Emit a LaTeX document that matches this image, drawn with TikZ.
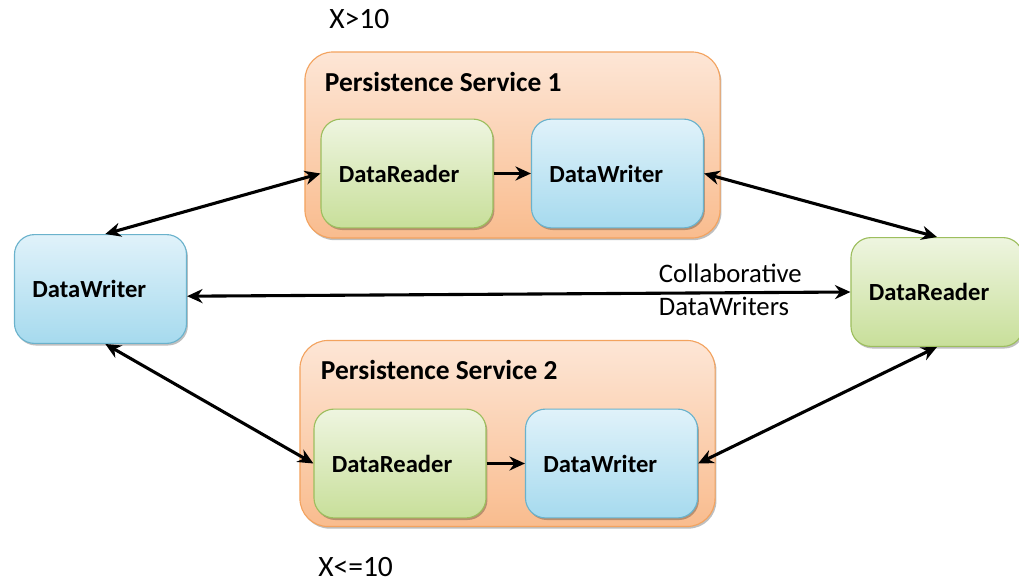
\documentclass[tikz,border=0pt]{standalone}
\usepackage{fontspec}
\setmainfont{Carlito}
\usetikzlibrary{arrows.meta,shadows}

\definecolor{wrtop}{HTML}{E0F2FA}
\definecolor{wrbot}{HTML}{A6DAEE}
\definecolor{wrline}{HTML}{6AB2CC}
\definecolor{rdtop}{HTML}{EEF5E0}
\definecolor{rdbot}{HTML}{C8DF9A}
\definecolor{rdline}{HTML}{9DBE5E}
\definecolor{svtop}{HTML}{FDE6D6}
\definecolor{svbot}{HTML}{F9BC8E}
\definecolor{svline}{HTML}{F3A35F}

\tikzset{
  box/.style={rounded corners=0.5cm, line width=0.8pt, text width=3.4cm, align=left,
    inner xsep=0.45cm, minimum height=2.72cm, font=\fontsize{17.5}{20}\selectfont\bfseries,
    drop shadow={shadow xshift=1pt, shadow yshift=-1.5pt, opacity=0.25, fill=black}},
  writer/.style={box, draw=wrline, top color=wrtop, bottom color=wrbot},
  reader/.style={box, draw=rdline, top color=rdtop, bottom color=rdbot},
  service/.style={rounded corners=0.7cm, line width=0.8pt, draw=svline, top color=svtop,
    bottom color=svbot, minimum width=10.375cm, minimum height=4.65cm,
    drop shadow={shadow xshift=1pt, shadow yshift=-1.5pt, opacity=0.25, fill=black}},
  title/.style={anchor=west, font=\fontsize{19.5}{22}\selectfont\bfseries},
  plain/.style={anchor=west, align=left, font=\fontsize{19}{23.5}\selectfont},
  cond/.style={anchor=base west, inner sep=0pt, font=\fontsize{21}{24}\selectfont},
  link/.style={line width=2.2pt, >={Stealth[length=11pt, width=10pt]}}
}

\begin{document}
\begin{tikzpicture}[x=0.025cm, y=-0.025cm]

  \useasboundingbox (0,0) rectangle (1019,584);

  % Persistence Service 1
  \node[service] (ps1) at (512.5,145) {};
  \node[title] (ps1t) at (320,82) {Persistence Service 1};
  \node[reader] (ps1r) at (407,173.5) {DataReader};
  \node[writer] (ps1w) at (617.5,173.5) {DataWriter};
  \node[cond] (cond1) at (329,29) {X>10};

  % Persistence Service 2
  \node[service] (ps2) at (507.5,433.5) {};
  \node[title] (ps2t) at (316,370) {Persistence Service 2};
  \node[reader] (ps2r) at (400,463.5) {DataReader};
  \node[writer] (ps2w) at (611.5,463.5) {DataWriter};
  \node[cond] (cond2) at (318,576) {X<=10};

  % Outer DataWriter and DataReader
  \node[writer] (dw) at (100.5,289) {DataWriter};
  \node[reader] (dr) at (937,292) {DataReader};

  % Links through service 1
  \draw[link, <->] ([xshift=0.12cm]dw.north) -- (ps1r.west);
  \draw[link, ->] (ps1r) -- (ps1w);
  \draw[link, <->] (ps1w.east) -- (dr.north);

  % Direct link
  \draw[link, <->] ([yshift=-0.18cm]dw.east) -- (dr.west);
  \node[plain] (collab) at (654,290) {Collaborative\\DataWriters};

  % Links through service 2
  \draw[link, <->] ([xshift=0.12cm]dw.south) -- (ps2r.west);
  \draw[link, ->] (ps2r) -- (ps2w);
  \draw[link, <->] (ps2w.east) -- (dr.south);

\end{tikzpicture}
\end{document}
